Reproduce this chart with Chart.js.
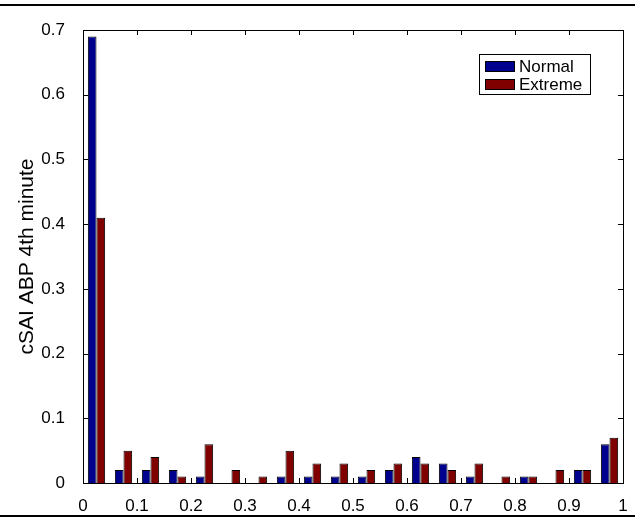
<!DOCTYPE html>
<html>
<head>
<meta charset="utf-8">
<script src="https://cdn.jsdelivr.net/npm/chart.js@4/dist/chart.umd.min.js"></script>
<style>
  html, body { margin: 0; padding: 0; background: #fff; }
  #wrap { width: 635px; height: 523px; }
</style>
</head>
<body>
<div id="wrap"><canvas id="c" width="635" height="523"></canvas></div>
<script>
// Histogram bin centres (bin width 0.05)
const binCenters = [0.025, 0.075, 0.125, 0.175, 0.225, 0.275, 0.325, 0.375, 0.425, 0.475,
                    0.525, 0.575, 0.625, 0.675, 0.725, 0.775, 0.825, 0.875, 0.925, 0.975];
// Relative frequencies per group
const normalValues  = [0.69, 0.02, 0.02, 0.02, 0.01, 0.00, 0.00, 0.01, 0.01, 0.01,
                       0.01, 0.02, 0.04, 0.03, 0.01, 0.00, 0.01, 0.00, 0.02, 0.06];
const extremeValues = [0.41, 0.05, 0.04, 0.01, 0.06, 0.02, 0.01, 0.05, 0.03, 0.03,
                       0.02, 0.03, 0.03, 0.02, 0.03, 0.01, 0.01, 0.02, 0.02, 0.07];
const seriesNames = ['Normal', 'Extreme'];
const xTickValues = [0, 0.1, 0.2, 0.3, 0.4, 0.5, 0.6, 0.7, 0.8, 0.9, 1];
const yTickValues = [0, 0.1, 0.2, 0.3, 0.4, 0.5, 0.6, 0.7];
const yTitle = 'cSAI ABP 4th minute';

const FONT = "'Liberation Sans', Arial, Helvetica, sans-serif";
const BLUE = 'rgb(0,0,143)';
const RED = 'rgb(128,0,0)';

const toPoints = vals => binCenters.map((x, i) => ({ x: x, y: vals[i] }));

// Boxed axes with inward tick marks on all four sides, plus page rules
const framePlugin = {
  id: 'frame',
  beforeDraw(chart) {
    const ctx = chart.ctx;
    ctx.save();
    ctx.fillStyle = '#000';
    ctx.fillRect(0, 4, chart.width, 2);
    ctx.fillRect(0, 515, chart.width, 2);
    ctx.restore();
  },
  afterDatasetsDraw(chart) {
    const { ctx, chartArea: a, scales } = chart;
    const tl = 5;
    ctx.save();
    ctx.strokeStyle = '#000';
    ctx.lineWidth = 1;
    ctx.beginPath();
    xTickValues.forEach(v => {
      const px = Math.round(scales.x.getPixelForValue(v)) + 0.5;
      ctx.moveTo(px, a.bottom); ctx.lineTo(px, a.bottom - tl);
      ctx.moveTo(px, a.top); ctx.lineTo(px, a.top + tl);
    });
    yTickValues.forEach(v => {
      const py = Math.round(scales.y.getPixelForValue(v)) + 0.5;
      ctx.moveTo(a.left, py); ctx.lineTo(a.left + tl, py);
      ctx.moveTo(a.right, py); ctx.lineTo(a.right - tl, py);
    });
    ctx.stroke();
    ctx.strokeRect(Math.round(a.left) + 0.5, Math.round(a.top) + 0.5,
                   Math.round(a.right - a.left), Math.round(a.bottom - a.top));
    ctx.restore();
  },
  afterDraw(chart) {
    // legend box in the upper right of the axes
    const ctx = chart.ctx;
    const bx = 479, by = 54, bw = 111, bh = 40;
    ctx.save();
    ctx.fillStyle = '#fff';
    ctx.fillRect(bx, by, bw, bh);
    ctx.strokeStyle = '#000';
    ctx.lineWidth = 1;
    ctx.strokeRect(bx + 0.5, by + 0.5, bw, bh);
    ctx.font = '17px ' + FONT;
    ctx.textBaseline = 'middle';
    chart.data.datasets.forEach((ds, i) => {
      const cy = by + 12 + i * 18;
      ctx.fillStyle = ds.backgroundColor;
      ctx.fillRect(bx + 6, cy - 5, 29, 10);
      ctx.strokeStyle = '#000';
      ctx.strokeRect(bx + 6.5, cy - 4.5, 29, 10);
      ctx.fillStyle = '#000';
      ctx.fillText(ds.label, bx + 40, cy + 1);
    });
    ctx.restore();
  }
};

new Chart(document.getElementById('c'), {
  type: 'bar',
  data: {
    datasets: [
      { label: seriesNames[0], data: toPoints(normalValues), backgroundColor: BLUE,
        borderColor: '#000', borderWidth: 1, borderSkipped: 'start' },
      { label: seriesNames[1], data: toPoints(extremeValues), backgroundColor: RED,
        borderColor: '#000', borderWidth: 1, borderSkipped: 'start' }
    ]
  },
  options: {
    responsive: false,
    animation: false,
    events: [],
    categoryPercentage: 0.64,
    barPercentage: 1.0,
    layout: { padding: { top: 30, right: 12, left: 0, bottom: 0 } },
    plugins: { legend: { display: false }, tooltip: { enabled: false } },
    scales: {
      x: {
        type: 'linear',
        min: 0, max: 1,
        offset: false,
        grid: { display: false, offset: false },
        border: { display: false },
        afterBuildTicks: s => { s.ticks = xTickValues.map(v => ({ value: v })); },
        afterFit: s => { s.height = 40; },
        ticks: {
          color: '#000', padding: 5, maxRotation: 0, autoSkip: false,
          font: { family: FONT, size: 17 },
          callback: v => String(+v.toFixed(1))
        }
      },
      y: {
        type: 'linear',
        min: 0, max: 0.7,
        grid: { display: false },
        border: { display: false },
        afterBuildTicks: s => { s.ticks = yTickValues.map(v => ({ value: v })); },
        afterFit: s => { s.width = 83; },
        ticks: {
          color: '#000', padding: 10,
          font: { family: FONT, size: 17 },
          callback: v => String(+v.toFixed(1))
        },
        title: {
          display: true, text: yTitle, color: '#000',
          font: { family: FONT, size: 21 },
          padding: { top: 15, bottom: 0 }
        }
      }
    }
  },
  plugins: [framePlugin]
});
</script>
</body>
</html>
